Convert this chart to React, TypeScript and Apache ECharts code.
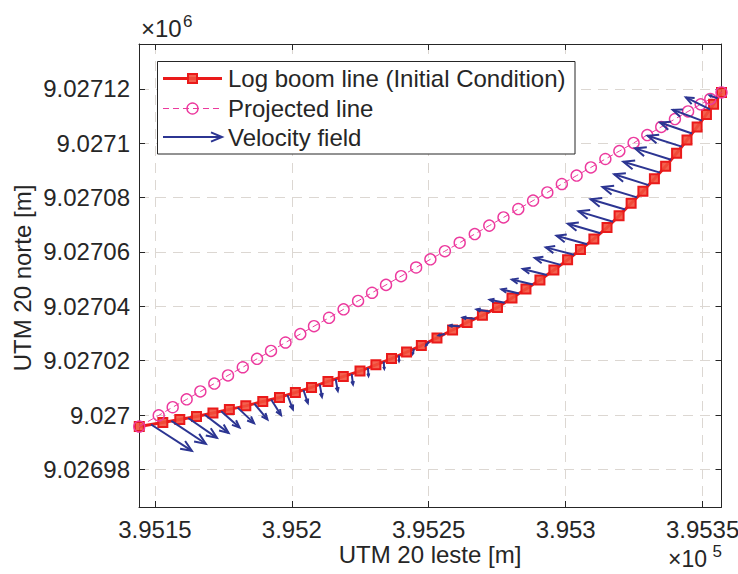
import { useEffect, useRef } from 'react';
import * as echarts from 'echarts';

// Log boom line (initial condition), UTM 20 easting / northing [m]
const boomX = [
  395144.3, 395152.9, 395159.1, 395165.2, 395171.2, 395177.2, 395183.2, 395189.4, 395195.5, 395201.3,
  395207.2, 395213.2, 395218.8, 395224.9, 395230.7, 395236.4, 395241.9, 395247.3, 395253.0, 395258.7,
  395264.0, 395269.6, 395275.1, 395280.4, 395285.5, 395290.6, 395295.7, 395300.7, 395305.4, 395310.3,
  395315.1, 395319.5, 395323.9, 395328.2, 395332.4, 395336.5, 395340.5, 395344.3, 395348.0, 395351.4,
  395354.0, 395356.9,
];
const boomY = [
  9026995.8, 9026997.3, 9026998.4, 9026999.5, 9027000.8, 9027002.1, 9027003.4, 9027005.0, 9027006.5, 9027008.3,
  9027010.2, 9027012.4, 9027014.2, 9027016.2, 9027018.5, 9027020.8, 9027023.2, 9027025.6, 9027028.4, 9027031.3,
  9027034.1, 9027036.7, 9027039.6, 9027043.1, 9027046.4, 9027049.7, 9027053.4, 9027057.1, 9027060.9, 9027064.8,
  9027069.0, 9027073.3, 9027077.9, 9027082.3, 9027086.9, 9027091.5, 9027096.3, 9027101.2, 9027106.0, 9027110.6,
  9027114.3, 9027118.7,
];

// Projected line
const projX = [
  395144.3, 395151.4, 395156.5, 395161.6, 395166.6, 395171.7, 395176.7, 395182.1, 395187.3, 395192.4,
  395197.7, 395203.1, 395208.1, 395213.6, 395218.9, 395224.2, 395229.3, 395234.4, 395239.9, 395245.4,
  395250.6, 395255.9, 395261.3, 395266.8, 395272.1, 395277.3, 395282.7, 395288.1, 395293.3, 395298.6,
  395304.0, 395309.2, 395314.5, 395319.6, 395324.8, 395329.8, 395334.9, 395339.9, 395344.7, 395349.3,
  395352.8, 395356.9,
];
const projY = [
  9026995.8, 9026999.9, 9027002.9, 9027005.8, 9027008.7, 9027011.6, 9027014.6, 9027017.6, 9027020.7, 9027023.6,
  9027026.7, 9027029.8, 9027032.7, 9027035.8, 9027038.9, 9027042.0, 9027045.0, 9027047.9, 9027051.1, 9027054.3,
  9027057.3, 9027060.3, 9027063.4, 9027066.6, 9027069.7, 9027072.7, 9027075.8, 9027078.9, 9027081.9, 9027085.0,
  9027088.1, 9027091.1, 9027094.2, 9027097.1, 9027100.1, 9027103.0, 9027106.0, 9027108.9, 9027111.7, 9027114.3,
  9027116.3, 9027118.7,
];

// Velocity field (drawn at segment centres), displayed vector components [m]
const velU = [
  14.9, 12.6, 10.5, 8.7, 6.7, 6.0, 4.8, 3.6, 2.0, 1.6,
  0.8, 0.8, 0.5, 0.2, 0.2, 0.0, -0.4, -1.1, -2.2, -3.7,
  -4.4, -4.9, -5.5, -6.4, -7.7, -8.8, -9.5, -10.3, -11.2, -11.9,
  -12.6, -12.6, -12.6, -12.6, -13.4, -13.2, -12.5, -11.7, -10.6, -8.8,
  -2.9,
];
const velV = [
  -9.7, -8.4, -7.3, -6.7, -6.0, -5.7, -5.8, -5.7, -5.3, -4.8,
  -4.6, -4.4, -3.9, -2.9, -2.6, -2.2, -1.8, -1.3, -0.5, 0.2,
  0.5, 0.7, 1.1, 1.5, 1.8, 2.2, 2.6, 2.7, 3.1, 3.5,
  3.8, 3.8, 3.8, 4.0, 4.0, 4.2, 4.0, 4.0, 4.0, 4.4,
  1.1,
];

const xTicks = [395150, 395200, 395250, 395300, 395350];
const xTickLabels = ['3.9515', '3.952', '3.9525', '3.953', '3.9535'];
const yTicks = [9026980, 9027000, 9027020, 9027040, 9027060, 9027080, 9027100, 9027120];
const yTickLabels = ['9.02698', '9.027', '9.02702', '9.02704', '9.02706', '9.02708', '9.0271', '9.02712'];

const X_MIN = 395144.2;
const X_MAX = 395356.9;
const Y_MIN = 9026966.2;
const Y_MAX = 9027136.5;

const FONT = "'Liberation Sans', Arial, Helvetica, sans-serif";
const TXT = '#262626';
const RED = '#ea1a1a';
const RED_FILL = 'rgba(242,80,60,0.9)';
const PINK = '#ec3a9e';
const BLUE = '#2c3592';
const GRID = '#dcd7d2';

function arrowShape(x0: number, y0: number, x1: number, y1: number) {
  const dx = x1 - x0;
  const dy = y1 - y0;
  const L = Math.hypot(dx, dy);
  const ux = dx / (L || 1);
  const uy = dy / (L || 1);
  const h = Math.min(L * 0.3, 11);
  const w = h * 0.42;
  const bx = x1 - ux * h;
  const by = y1 - uy * h;
  return {
    shaft: { x1: x0, y1: y0, x2: x1, y2: y1 },
    head: [
      [bx - uy * w, by + ux * w],
      [x1, y1],
      [bx + uy * w, by - ux * w],
    ],
  };
}

export default function App() {
  const ref = useRef<HTMLDivElement>(null);

  useEffect(() => {
    if (!ref.current) return;
    const chart = echarts.init(ref.current, undefined, { renderer: 'svg' });

    const boomData = boomX.map((x, i) => [x, boomY[i]]);
    const projData = projX.map((x, i) => [x, projY[i]]);
    const velData = velU.map((u, i) => {
      const x0 = (boomX[i] + boomX[i + 1]) / 2;
      const y0 = (boomY[i] + boomY[i + 1]) / 2;
      return [x0, y0, x0 + u, y0 + velV[i]];
    });

    const tickLabelStyle = { color: TXT, fontSize: 24, fontFamily: FONT };
    const axisLine = { show: true, lineStyle: { color: TXT, width: 1 } };

    const legendArrow = arrowShape(163, 137, 222, 137);

    chart.setOption({
      animation: false,
      backgroundColor: '#ffffff',
      textStyle: { fontFamily: FONT },
      grid: { left: 139, top: 44, right: 16.5, bottom: 67, outerBoundsMode: 'none', containLabel: false },
      xAxis: [
        {
          type: 'value',
          min: X_MIN,
          max: X_MAX,
          position: 'bottom',
          axisLine,
          axisTick: { show: true, inside: true, length: 6, customValues: xTicks, lineStyle: { color: TXT } },
          axisLabel: {
            ...tickLabelStyle,
            margin: 10,
            customValues: xTicks,
            formatter: (v: number) => xTickLabels[xTicks.indexOf(v)] ?? '',
          },
          splitLine: { show: true, lineStyle: { color: GRID, type: [10, 7], width: 1 } },
        },
        {
          type: 'value',
          min: X_MIN,
          max: X_MAX,
          position: 'top',
          axisLine,
          axisTick: { show: true, inside: true, length: 6, customValues: xTicks, lineStyle: { color: TXT } },
          axisLabel: { show: false },
          splitLine: { show: false },
        },
      ],
      yAxis: [
        {
          type: 'value',
          min: Y_MIN,
          max: Y_MAX,
          position: 'left',
          axisLine,
          axisTick: { show: true, inside: true, length: 6, customValues: yTicks, lineStyle: { color: TXT } },
          axisLabel: {
            ...tickLabelStyle,
            margin: 9,
            customValues: yTicks,
            formatter: (v: number) => yTickLabels[yTicks.indexOf(v)] ?? '',
          },
          splitLine: { show: true, lineStyle: { color: GRID, type: [10, 7], width: 1 } },
        },
        {
          type: 'value',
          min: Y_MIN,
          max: Y_MAX,
          position: 'right',
          axisLine,
          axisTick: { show: true, inside: true, length: 6, customValues: yTicks, lineStyle: { color: TXT } },
          axisLabel: { show: false },
          splitLine: { show: false },
        },
      ],
      series: [
        {
          name: 'Log boom line (Initial Condition)',
          type: 'line',
          data: boomData,
          xAxisIndex: 0,
          yAxisIndex: 0,
          symbol: 'rect',
          symbolSize: 9,
          showAllSymbol: true,
          lineStyle: { color: RED, width: 3 },
          itemStyle: { color: RED_FILL, borderColor: RED, borderWidth: 2 },
          z: 2,
        },
        {
          name: 'Projected line',
          type: 'line',
          data: projData,
          xAxisIndex: 0,
          yAxisIndex: 0,
          symbol: 'circle',
          symbolSize: 11,
          showAllSymbol: true,
          lineStyle: { color: PINK, width: 1, type: [6, 4] },
          itemStyle: { color: 'rgba(0,0,0,0)', borderColor: PINK, borderWidth: 1.4 },
          z: 3,
        },
        {
          name: 'Velocity field',
          type: 'custom',
          data: velData,
          xAxisIndex: 0,
          yAxisIndex: 0,
          encode: { x: [0, 2], y: [1, 3] },
          z: 4,
          renderItem: (_params: any, api: any) => {
            const p0 = api.coord([api.value(0), api.value(1)]);
            const p1 = api.coord([api.value(2), api.value(3)]);
            const a = arrowShape(p0[0], p0[1], p1[0], p1[1]);
            return {
              type: 'group',
              children: [
                { type: 'line', shape: a.shaft, style: { stroke: BLUE, lineWidth: 2 } },
                { type: 'polyline', shape: { points: a.head }, style: { stroke: BLUE, lineWidth: 2, fill: null } },
              ],
            };
          },
        },
      ],
      graphic: [
        // legend box
        {
          type: 'rect',
          z: 100,
          shape: { x: 157.5, y: 61.5, width: 417.5, height: 92.5 },
          style: { fill: '#ffffff', stroke: TXT, lineWidth: 1 },
        },
        { type: 'line', z: 101, shape: { x1: 163, y1: 78.5, x2: 222, y2: 78.5 }, style: { stroke: RED, lineWidth: 3 } },
        {
          type: 'rect',
          z: 102,
          shape: { x: 188, y: 74, width: 9, height: 9 },
          style: { fill: RED_FILL, stroke: RED, lineWidth: 2 },
        },
        {
          type: 'text',
          z: 101,
          style: { text: 'Log boom line (Initial Condition)', x: 228, y: 78.5, fill: TXT, font: `24px ${FONT}`, verticalAlign: 'middle' },
        },
        {
          type: 'line',
          z: 101,
          shape: { x1: 163, y1: 108.5, x2: 222, y2: 108.5 },
          style: { stroke: PINK, lineWidth: 1, lineDash: [6, 4] },
        },
        { type: 'circle', z: 102, shape: { cx: 192.5, cy: 108.5, r: 5.5 }, style: { fill: null, stroke: PINK, lineWidth: 1.4 } },
        {
          type: 'text',
          z: 101,
          style: { text: 'Projected line', x: 228, y: 108.5, fill: TXT, font: `24px ${FONT}`, verticalAlign: 'middle' },
        },
        { type: 'line', z: 101, shape: legendArrow.shaft, style: { stroke: BLUE, lineWidth: 2 } },
        { type: 'polyline', z: 101, shape: { points: legendArrow.head }, style: { stroke: BLUE, lineWidth: 2, fill: null } },
        {
          type: 'text',
          z: 101,
          style: { text: 'Velocity field', x: 228, y: 137, fill: TXT, font: `24px ${FONT}`, verticalAlign: 'middle' },
        },
        // exponent labels
        {
          type: 'text',
          style: { text: '×10', x: 141, y: 28.5, fill: TXT, font: `24px ${FONT}`, verticalAlign: 'middle' },
        },
        {
          type: 'text',
          style: { text: '6', x: 183, y: 21, fill: TXT, font: `17px ${FONT}`, verticalAlign: 'middle' },
        },
        {
          type: 'text',
          style: { text: '×10', x: 707, y: 559, fill: TXT, font: `23px ${FONT}`, align: 'right', verticalAlign: 'middle' },
        },
        {
          type: 'text',
          style: { text: '5', x: 722, y: 551, fill: TXT, font: `17px ${FONT}`, align: 'right', verticalAlign: 'middle' },
        },
        // axis titles
        {
          type: 'text',
          style: { text: 'UTM 20 leste [m]', x: 430, y: 554, fill: TXT, font: `24px ${FONT}`, align: 'center', verticalAlign: 'middle' },
        },
        {
          type: 'text',
          x: 22,
          y: 278,
          rotation: Math.PI / 2,
          style: { text: 'UTM 20 norte [m]', x: 0, y: 0, fill: TXT, font: `24px ${FONT}`, align: 'center', verticalAlign: 'middle' },
        },
      ],
    });

    return () => chart.dispose();
  }, []);

  return (
    <div
      ref={ref}
      style={{ position: 'fixed', left: 0, top: 0, width: 738, height: 574, background: '#ffffff' }}
    />
  );
}
